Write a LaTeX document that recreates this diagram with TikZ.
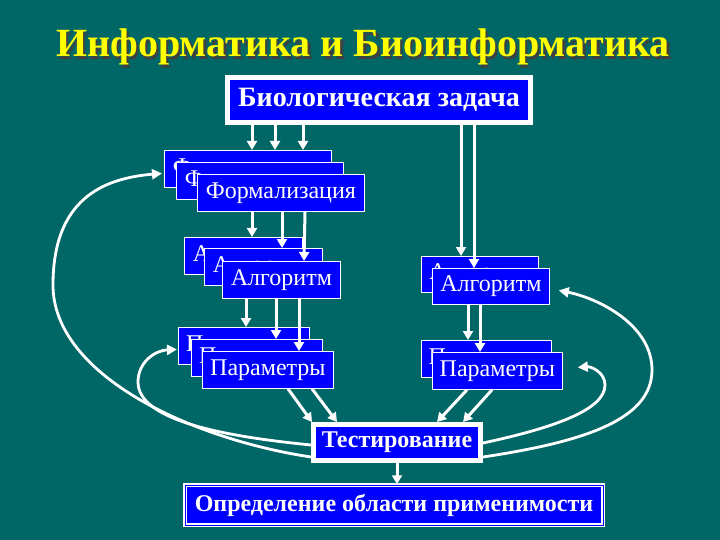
\documentclass[tikz,border=0pt]{standalone}
\usepackage{fontspec}
\setmainfont{Liberation Serif}
\usetikzlibrary{arrows.meta}
\definecolor{bioTeal}{HTML}{006666}
\definecolor{bioBlue}{HTML}{0000FF}
\definecolor{bioYellow}{HTML}{FFFF00}
\tikzset{
  bio stack/.style={draw=white, line width=0.8pt, fill=bioBlue, text=white, inner sep=0pt, anchor=north west, font=\fontsize{24}{24}\selectfont},
  bio frame/.style={draw=white, line width=5pt, fill=bioBlue, text=white, inner sep=0pt, font=\bfseries\fontsize{24}{24}\selectfont},
  bio arrow/.style={draw=white, line width=3pt, -{Triangle[length=9pt, width=10pt]}},
  bio curve/.style={draw=white, line width=2.8pt, -{Triangle[length=10pt, width=10pt]}},
  bio title/.style={font=\bfseries\fontsize{40}{40}\selectfont},
}

\begin{document}
\begin{tikzpicture}[x=1pt, y=-1pt]
  \fill[bioTeal] (0,0) rectangle (720,540);
  \useasboundingbox (0,0) rectangle (720,540);

  % Title with its shadow
  \node[bio title, text=black!75] (titleshadow) at (365.5,49.5) {Информатика и Биоинформатика};
  \node[bio title, text=bioYellow] (title) at (363,47) {Информатика и Биоинформатика};

  % Task, testing and range boxes
  \node[bio frame, minimum width=303, minimum height=45, font=\bfseries\fontsize{28}{28}\selectfont] (task) at (379,100) {Биологическая задача};
  \node[bio frame, minimum width=167, minimum height=36] (test) at (397,442.5) {Тестирование};
  \node[bio frame, line width=1.5pt, double=bioBlue, double distance=1pt, minimum width=418, minimum height=40] (range) at (394,505) {Определение области применимости};

  % Stacks on the left
  \foreach \n/\x/\y in {1/164/150, 2/176/162, 3/197/174}
    \node[bio stack, minimum width=167, minimum height=37] (form\n) at (\x,\y) {Формализация};
  \foreach \n/\x/\y in {1/184/237, 2/204/248, 3/222/261}
    \node[bio stack, minimum width=118, minimum height=37] (alg\n) at (\x,\y) {Алгоритм};
  \foreach \n/\x/\y in {1/178/327, 2/191/339, 3/202/351}
    \node[bio stack, minimum width=131, minimum height=37] (par\n) at (\x,\y) {Параметры};

  % Stacks on the right
  \foreach \n/\x/\y in {1/421/256, 2/432/268}
    \node[bio stack, minimum width=117, minimum height=36] (ralg\n) at (\x,\y) {Алгоритм};
  \foreach \n/\x/\y in {1/421/340, 2/432/352}
    \node[bio stack, minimum width=130, minimum height=37] (rpar\n) at (\x,\y) {Параметры};

  % Straight arrows down the left stacks
  \foreach \a/\b in {27/88, 50/111, 78/139}
    \draw[bio arrow] ([xshift=\a pt]task.south west) -- ([xshift=\b pt]form1.north west);
  \foreach \a/\b/\k in {55/68/1, 85/78/2, 108/82/3}
    \draw[bio arrow] ([xshift=\a pt]form3.south west) -- ([xshift=\b pt]alg\k.north west);
  \foreach \a/\b/\k in {24/68/1, 54/85/2, 77/97/3}
    \draw[bio arrow] ([xshift=\a pt]alg3.south west) -- ([xshift=\b pt]par\k.north west);

  % Straight arrows down the right stacks
  \foreach \a/\b/\k in {236/40/1, 249/42/2}
    \draw[bio arrow] ([xshift=\a pt]task.south west) -- ([xshift=\b pt]ralg\k.north west);
  \foreach \a/\b/\k in {36/47/1, 48/48/2}
    \draw[bio arrow] ([xshift=\a pt]ralg2.south west) -- ([xshift=\b pt]rpar\k.north west);

  % Into testing and out of it
  \foreach \a/\b in {86/1, 110/26}
    \draw[bio arrow] ([xshift=\a pt]par3.south west) -- ([xshift=\b pt]test.north west);
  \foreach \a/\b in {35/126, 60/152}
    \draw[bio arrow] ([xshift=\a pt]rpar2.south west) -- ([xshift=\b pt]test.north west);
  \draw[bio arrow] (test.south) -- (test.south |- range.north);

  % Feedback loops
  \coordinate (outerL) at (53,285);
  \coordinate (innerL) at (138,382);
  \coordinate (outerR) at (652,370);
  \coordinate (innerR) at (605,385);
  \draw[bio curve] ([yshift=-14.5pt]test.west) .. controls +(-120,-18) and +(0,90) .. (outerL)
    .. controls +(0,-85) and +(-60,5) .. ([xshift=-2pt, yshift=-4.5pt]form1.west);
  \draw[bio curve] ([yshift=-2.5pt]test.west) .. controls +(-80,-8) and +(0,40) .. (innerL)
    .. controls +(0,-20) and +(-22,1) .. ([xshift=-1pt, yshift=-3.5pt]par1.west);
  \draw[bio curve] ([yshift=-14.5pt]test.east) .. controls +(100,-15) and +(0,50) .. (outerR)
    .. controls +(0,-45) and +(40,8) .. ([xshift=9pt, yshift=-4pt]ralg2.east);
  \draw[bio curve] ([yshift=-0.5pt]test.east) .. controls +(70,-15) and +(0,25) .. (innerR)
    .. controls +(0,-13) and +(13,-1) .. ([xshift=15pt, yshift=3.5pt]rpar2.east);
\end{tikzpicture}
\end{document}
